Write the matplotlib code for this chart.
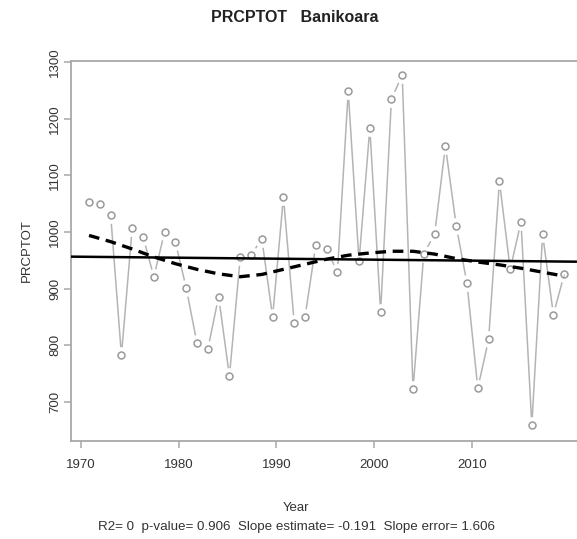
import numpy as np
import matplotlib
matplotlib.use("Agg")
import matplotlib.pyplot as plt

plt.rcParams['font.family'] = ['Liberation Sans', 'DejaVu Sans']

years = list(range(1970, 2015))
prcptot = [1053, 1049, 1031, 782, 1008, 992, 921, 1000, 982, 901,
           803, 793, 886, 745, 955, 959, 988, 850, 1062, 839,
           850, 977, 970, 929, 1249, 948, 1184, 859, 1235, 1278,
           722, 962, 996, 1152, 1011, 909, 724, 810, 1090, 934,
           1018, 658, 996, 854, 925]

smooth_years = list(range(1970, 2015, 2))
smooth_vals = [994, 983, 970, 956, 944, 934, 926, 921, 925, 934,
               943, 952, 959, 963, 966, 966, 961, 953, 947, 942,
               936, 929, 922]

slope = -0.191
tick_labels = [1970, 1980, 1990, 2000, 2010]
ytick_vals = [700, 800, 900, 1000, 1100, 1200, 1300]

title = "PRCPTOT   Banikoara"
stats = "R2= 0  p-value= 0.906  Slope estimate= -0.191  Slope error= 1.606"

fig = plt.figure(figsize=(5.77, 5.39), dpi=100)
ax = fig.add_axes([71/577, 98.3/539, 512/577, 380/539])

x = np.array(years, dtype=float)
y = np.array(prcptot, dtype=float)

gray_line = '#b4b4b4'
gray_mark = '#9a9a9a'
ax.plot(x, y, color=gray_line, lw=1.1, zorder=2)
# white halo for R type="b" gaps
ax.plot(x, y, 'o', ms=11, mfc='white', mec='white', zorder=3)
ax.plot(x, y, 'o', ms=5, mfc='white', mec=gray_mark, mew=1.1, zorder=4)

# linear trend through mean with stated slope
xm, ym = x.mean(), y.mean()
xl = np.array([1966, 2018])
ax.plot(xl, ym + slope * (xl - xm), color='black', lw=1.8, zorder=5)

ax.plot(smooth_years, smooth_vals, color='black', lw=2.4,
        dashes=(3.2, 2.0), zorder=6)

ax.set_xlim(1968.33, 2015.74)
ax.set_ylim(631, 1303)

# tick calibration (ticks in image are offset relative to points)
tick_pos = [1969.26 + (t - 1970) * 0.9045 for t in tick_labels]
ax.set_xticks(tick_pos)
ax.set_xticklabels([str(t) for t in tick_labels])
ax.set_yticks(ytick_vals)
ax.set_yticklabels([str(v) for v in ytick_vals], rotation=90, va='center')

for s in ['left', 'bottom', 'top', 'right']:
    ax.spines[s].set_color('#a8a8a8')
    ax.spines[s].set_linewidth(1.3)

ax.tick_params(axis='both', colors='#a8a8a8', length=5, width=1.1,
               labelcolor='#333333', labelsize=9.5)
ax.tick_params(axis='x', pad=8)
ax.tick_params(axis='y', pad=2)

ax.set_ylabel('PRCPTOT', fontsize=9.5, color='#333333', labelpad=12)

fig.text(295/577, 1 - 18/539, title, ha='center', va='center',
         fontsize=11.5, fontweight='bold', color='#222222')
fig.text(296/577, 1 - 508/539, 'Year', ha='center', va='center',
         fontsize=9.5, color='#333333')
fig.text(296/577, 1 - 527/539, stats, ha='center', va='center',
         fontsize=9.6, color='#333333')

fig.savefig('out.png', dpi=100)
